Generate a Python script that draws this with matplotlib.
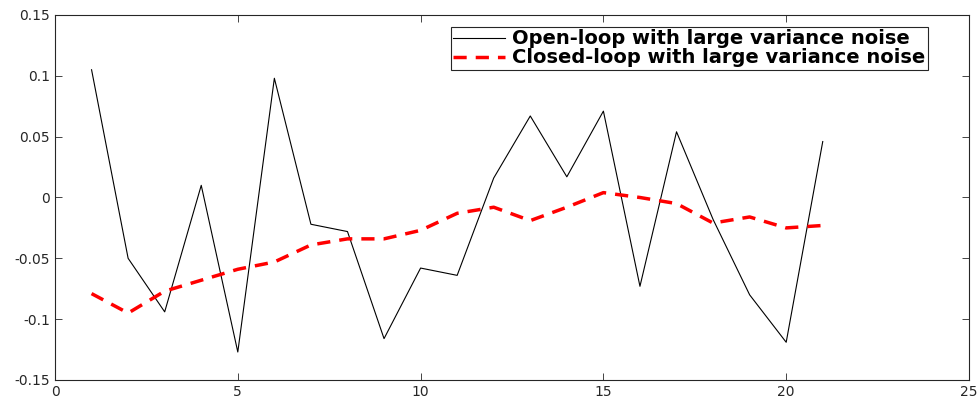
import numpy as np
import matplotlib.pyplot as plt

plt.rcParams['font.family'] = ['DejaVu Sans']

# samples 1..21
k = np.arange(1, 22)

open_loop = [0.105, -0.050, -0.094, 0.010, -0.127, 0.098, -0.022, -0.028, -0.116, -0.058,
             -0.064, 0.016, 0.067, 0.017, 0.071, -0.073, 0.054, -0.018, -0.080, -0.119, 0.046]
closed_loop = [-0.079, -0.095, -0.077, -0.068, -0.059, -0.053, -0.039, -0.034, -0.034, -0.027,
               -0.013, -0.008, -0.019, -0.008, 0.004, 0.000, -0.005, -0.021, -0.016, -0.025, -0.023]

fig = plt.figure(figsize=(9.77, 4.01), dpi=100)
ax = fig.add_axes([0.0563, 0.0524, 0.9355, 0.9102])

ax.plot(k, open_loop, color='black', linewidth=0.8, label='Open-loop with large variance noise')
ax.plot(k, closed_loop, color='red', linewidth=2.5, linestyle=(0, (3.8, 2.6)),
        label='Closed-loop with large variance noise')

ax.set_xlim(0, 25)
ax.set_ylim(-0.15, 0.15)
ax.set_xticks([0, 5, 10, 15, 20, 25])
ax.set_yticks([-0.15, -0.1, -0.05, 0, 0.05, 0.1, 0.15])
ax.set_yticklabels(['-0.15', '-0.1', '-0.05', '0', '0.05', '0.1', '0.15'])
ax.tick_params(direction='in', top=True, right=True, labelsize=10, colors='#262626',
               length=5, width=0.6)
for s in ax.spines.values():
    s.set_color('#262626')
    s.set_linewidth(0.8)

leg = ax.legend(loc='upper right', bbox_to_anchor=(0.955, 0.967), fancybox=False,
                edgecolor='#262626', framealpha=1, borderpad=0.12, labelspacing=0.0,
                handlelength=2.7, handletextpad=0.35, borderaxespad=0,
                prop={'weight': 'bold', 'size': 14})
leg.get_frame().set_linewidth(0.8)

fig.savefig('out.png', dpi=100)
